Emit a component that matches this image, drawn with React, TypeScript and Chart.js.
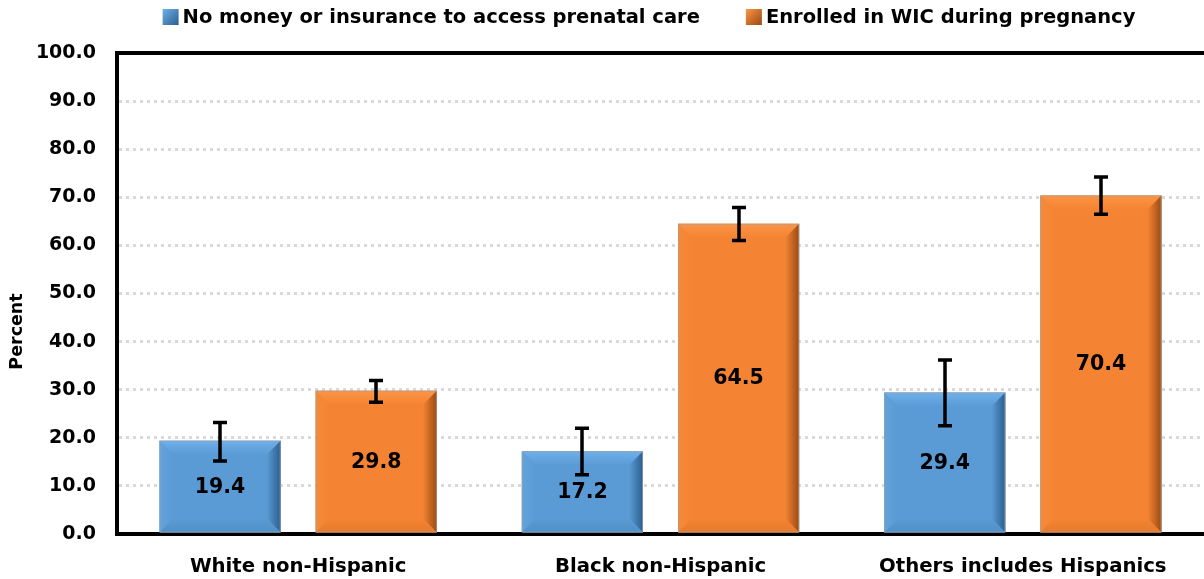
import React, { useEffect, useRef } from "react";
import { Chart, registerables } from "chart.js";

Chart.register(...registerables);

const categories = ["White non-Hispanic", "Black non-Hispanic", "Others includes Hispanics"];
const seriesNames = ["No money or insurance to access prenatal care", "Enrolled in WIC during pregnancy"];
const noMoney = [19.4, 17.2, 29.4];
const wic = [29.8, 64.5, 70.4];
const noMoneyLow = [15.2, 12.3, 22.5];
const noMoneyHigh = [23.2, 22.0, 36.2];
const wicLow = [27.4, 61.0, 66.5];
const wicHigh = [31.9, 67.9, 74.2];
const yTicks = [0, 10, 20, 30, 40, 50, 60, 70, 80, 90, 100];
const yTitle = "Percent";

const FONT = "'DejaVu Sans', 'Noto Sans', sans-serif";

const palette = [
  { base: "#5B9BD5", top: "#6FB0EA", left: "#62A3DD", right: "#2A5F8E", bottom: "#5090C8" },
  { base: "#F48433", top: "#FC9446", left: "#F68A39", right: "#9A4A14", bottom: "#E67A2C" },
];

const lows = [noMoneyLow, wicLow];
const highs = [noMoneyHigh, wicHigh];

const bevelPlugin = {
  id: "bevel",
  afterDatasetsDraw(chart: any) {
    const ctx = chart.ctx;
    chart.data.datasets.forEach((ds: any, di: number) => {
      const meta = chart.getDatasetMeta(di);
      const c = palette[di];
      meta.data.forEach((bar: any) => {
        const { x, y, base, width } = bar.getProps(["x", "y", "base", "width"], true);
        const l = x - width / 2;
        const r = x + width / 2;
        const t = y;
        const b = base;
        const bv = Math.min(14, (b - t) / 2, width / 2);
        ctx.save();
        let g = ctx.createLinearGradient(0, t, 0, t + bv);
        g.addColorStop(0, c.top);
        g.addColorStop(1, c.base);
        ctx.fillStyle = g;
        ctx.beginPath();
        ctx.moveTo(l, t); ctx.lineTo(r, t); ctx.lineTo(r - bv, t + bv); ctx.lineTo(l + bv, t + bv); ctx.closePath(); ctx.fill();
        g = ctx.createLinearGradient(l, 0, l + bv, 0);
        g.addColorStop(0, c.left);
        g.addColorStop(1, c.base);
        ctx.fillStyle = g;
        ctx.beginPath();
        ctx.moveTo(l, t); ctx.lineTo(l + bv, t + bv); ctx.lineTo(l + bv, b - bv); ctx.lineTo(l, b); ctx.closePath(); ctx.fill();
        g = ctx.createLinearGradient(r - bv, 0, r, 0);
        g.addColorStop(0, c.base);
        g.addColorStop(1, c.right);
        ctx.fillStyle = g;
        ctx.beginPath();
        ctx.moveTo(r, t); ctx.lineTo(r, b); ctx.lineTo(r - bv, b - bv); ctx.lineTo(r - bv, t + bv); ctx.closePath(); ctx.fill();
        g = ctx.createLinearGradient(0, b - bv, 0, b);
        g.addColorStop(0, c.base);
        g.addColorStop(1, c.bottom);
        ctx.fillStyle = g;
        ctx.beginPath();
        ctx.moveTo(l, b); ctx.lineTo(r, b); ctx.lineTo(r - bv, b - bv); ctx.lineTo(l + bv, b - bv); ctx.closePath(); ctx.fill();
        ctx.strokeStyle = "rgba(160,160,160,0.7)";
        ctx.lineWidth = 1;
        ctx.strokeRect(l + 0.5, t + 0.5, width - 1, b - t - 1);
        ctx.restore();
      });
    });
  },
};

const errorPlugin = {
  id: "errorBars",
  afterDatasetsDraw(chart: any) {
    const ctx = chart.ctx;
    const yScale = chart.scales.y;
    chart.data.datasets.forEach((ds: any, di: number) => {
      const meta = chart.getDatasetMeta(di);
      meta.data.forEach((bar: any, i: number) => {
        const x = Math.round(bar.x);
        const yl = yScale.getPixelForValue(lows[di][i]);
        const yh = yScale.getPixelForValue(highs[di][i]);
        ctx.save();
        ctx.strokeStyle = "#000";
        ctx.lineWidth = 3.5;
        ctx.beginPath();
        ctx.moveTo(x, yl); ctx.lineTo(x, yh);
        ctx.moveTo(x - 7, yl); ctx.lineTo(x + 7, yl);
        ctx.moveTo(x - 7, yh); ctx.lineTo(x + 7, yh);
        ctx.stroke();
        ctx.restore();
      });
    });
  },
};

const labelPlugin = {
  id: "valueLabels",
  afterDatasetsDraw(chart: any) {
    const ctx = chart.ctx;
    chart.data.datasets.forEach((ds: any, di: number) => {
      const meta = chart.getDatasetMeta(di);
      meta.data.forEach((bar: any, i: number) => {
        const v = ds.data[i];
        ctx.save();
        ctx.font = `bold 20.5px ${FONT}`;
        ctx.fillStyle = "#000";
        ctx.textAlign = "center";
        ctx.textBaseline = "middle";
        ctx.fillText(v.toFixed(1), bar.x, (bar.y + bar.base) / 2 + 1);
        ctx.restore();
      });
    });
  },
};

const frameLegendPlugin = {
  id: "frameLegend",
  afterDraw(chart: any) {
    const ctx = chart.ctx;
    const a = chart.chartArea;
    ctx.save();
    ctx.strokeStyle = "#000";
    ctx.lineWidth = 4;
    ctx.beginPath();
    ctx.moveTo(a.left - 2, a.top);
    ctx.lineTo(a.right, a.top);
    ctx.stroke();
    ctx.save();
    ctx.translate(17, (a.top + a.bottom) / 2 + 38);
    ctx.rotate(-Math.PI / 2);
    ctx.font = `bold 17.5px ${FONT}`;
    ctx.fillStyle = "#000";
    ctx.textAlign = "center";
    ctx.textBaseline = "middle";
    ctx.fillText(yTitle, 0, 0);
    ctx.restore();
    ctx.font = `bold 19.5px ${FONT}`;
    ctx.textBaseline = "middle";
    ctx.textAlign = "left";
    const boxSize = 16;
    const gapBoxText = 4;
    const gapItems = 46;
    const widths = chart.data.datasets.map((ds: any) => boxSize + gapBoxText + ctx.measureText(ds.label).width);
    const total = widths.reduce((s: number, w: number) => s + w, 0) + gapItems * (widths.length - 1);
    const center = 649;
    let x = center - total / 2;
    const cy = 17;
    chart.data.datasets.forEach((ds: any, di: number) => {
      const c = palette[di];
      const g = ctx.createLinearGradient(x, cy - boxSize / 2, x + boxSize, cy + boxSize / 2);
      g.addColorStop(0, c.top);
      g.addColorStop(1, c.right);
      ctx.fillStyle = g;
      ctx.fillRect(x, cy - boxSize / 2, boxSize, boxSize);
      ctx.fillStyle = "#000";
      ctx.fillText(ds.label, x + boxSize + gapBoxText, cy + 1);
      x += widths[di] + gapItems;
    });
    ctx.restore();
  },
};

export default function App() {
  const ref = useRef<HTMLCanvasElement | null>(null);
  useEffect(() => {
    if (!ref.current) return;
    const chart = new Chart(ref.current, {
      type: "bar",
      data: {
        labels: categories,
        datasets: [
          { label: seriesNames[0], data: noMoney, backgroundColor: palette[0].base, borderWidth: 0 },
          { label: seriesNames[1], data: wic, backgroundColor: palette[1].base, borderWidth: 0 },
        ],
      },
      options: {
        responsive: false,
        animation: false,
        devicePixelRatio: 1,
        layout: { padding: { top: 53, right: 0, left: 0, bottom: 0 } },
        datasets: { bar: { categoryPercentage: 0.862, barPercentage: 0.776 } },
        plugins: { legend: { display: false }, tooltip: { enabled: false } },
        scales: {
          x: {
            grid: { display: false, drawTicks: false },
            border: { display: true, color: "#000", width: 4 },
            ticks: { color: "#000", font: { family: FONT, size: 19.7, weight: "bold" }, padding: 21, maxRotation: 0 },
            afterFit: (s: any) => { s.height = 45; },
          },
          y: {
            min: 0,
            max: 100,
            afterBuildTicks: (s: any) => { s.ticks = yTicks.map((v) => ({ value: v })); },
            grid: { color: "#D9D9D9", lineWidth: 3, drawTicks: false },
            border: { display: true, color: "#000", width: 4, dash: [3, 4] },
            ticks: {
              color: "#000",
              font: { family: FONT, size: 19, weight: "bold" },
              padding: 21,
              callback: (v: any) => Number(v).toFixed(1),
            },
            afterFit: (s: any) => { s.width = 117; },
          },
        },
      },
      plugins: [bevelPlugin, errorPlugin, labelPlugin, frameLegendPlugin],
    } as any);
    return () => chart.destroy();
  }, []);
  return (
    <div style={{ position: "absolute", left: 0, top: 0, width: 1204, height: 579, background: "#fff" }}>
      <canvas ref={ref} width={1204} height={579} />
    </div>
  );
}
